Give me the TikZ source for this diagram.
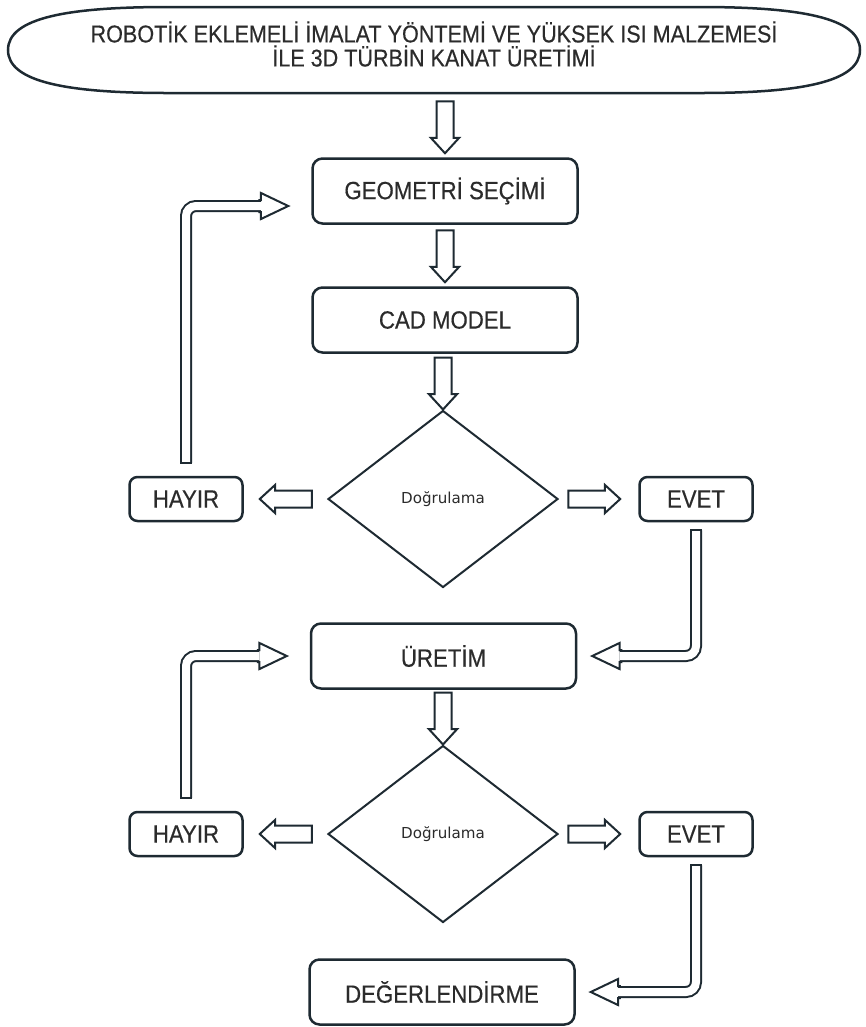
\documentclass[tikz,border=0pt]{standalone}
\usepackage{fontspec}
\setmainfont{Liberation Sans}[FakeStretch=0.89, FakeBold=0.4]
\newfontfamily\diafont{DejaVu Sans}
\usetikzlibrary{arrows.meta, positioning, shapes.geometric, shapes.arrows, calc}
\definecolor{ink}{HTML}{1E2A32}
\definecolor{txt}{HTML}{2B2B2B}

\begin{document}
\begin{tikzpicture}[
    every node/.style={text=txt},
    box/.style={draw=ink, line width=0.05cm, rounded corners=0.2cm, minimum width=5.3cm, minimum height=1.3cm, font=\fontsize{14.2}{16}\selectfont},
    smallbox/.style={box, rounded corners=0.16cm, minimum width=2.26cm, minimum height=0.88cm},
    decision/.style={diamond, draw=ink, line width=0.04cm, minimum width=4.6cm, minimum height=3.54cm, inner sep=0pt, font=\diafont\fontsize{8.6}{10}\selectfont},
    blockarrow/.style={single arrow, draw=ink, fill=white, line width=0.04cm, inner xsep=0pt, inner ysep=0.15cm, outer sep=0pt, single arrow head extend=0.11cm, single arrow tip angle=85, minimum height=1.04cm, anchor=tip},
    arrowhead/.style={blockarrow, inner ysep=0.1cm, single arrow head extend=0.14cm, single arrow tip angle=51, minimum height=0.58cm},
    shaft/.style={draw=ink, line width=0.04cm, double=white, double distance=0.16cm, rounded corners=0.2cm}
]
\useasboundingbox[fill=white] (0,0) rectangle (17.32,-20.54);

% Title
\node[align=center, font=\fontsize{13.8}{13.7}\selectfont] (title) at (8.68,-0.88) {ROBOTİK EKLEMELİ İMALAT YÖNTEMİ VE YÜKSEK ISI MALZEMESİ\\İLE 3D TÜRBİN KANAT ÜRETİMİ};
\draw[ink, line width=0.05cm] (0.16,-1.0) .. controls (0.16,-0.355) and (1.36,-0.14) .. (3.36,-0.14) -- (14.0,-0.14)
    .. controls (16.0,-0.14) and (17.2,-0.355) .. (17.2,-1.0) .. controls (17.2,-1.645) and (16.0,-1.86) .. (14.0,-1.86)
    -- (3.36,-1.86) .. controls (1.36,-1.86) and (0.16,-1.645) .. cycle;

% Main steps
\node[box] (geo) at (8.9,-3.82) {GEOMETRİ SEÇİMİ};
\node[box] (cad) at (8.9,-6.4) {CAD MODEL};
\node[box] (uretim) at (8.87,-13.12) {ÜRETİM};
\node[box] (deger) at (8.84,-19.84) {DEĞERLENDİRME};

\node[blockarrow, rotate=-90] (a1) at ([yshift=0.08cm]geo.north) {};
\node[blockarrow, rotate=-90] (a2) at ([yshift=0.08cm]cad.north) {};

% Checks
\foreach \i/\y/\back/\dy/\next in {1/-9.98/geo/-0.3cm/uretim, 2/-16.68/uretim/0cm/deger} {
    \node[decision] (dia\i) at (8.86,\y) {Doğrulama};
    \node[smallbox] (hayir\i) at (3.72,\y) {HAYIR};
    \node[smallbox] (evet\i) at (13.92,\y) {EVET};
    \node[blockarrow, rotate=-90] (in\i) at (dia\i.north) {};
    \node[blockarrow, rotate=180] (no\i) at ([xshift=0.32cm]hayir\i.east) {};
    \node[blockarrow] (yes\i) at ([xshift=-0.36cm]evet\i.west) {};
    % loop back
    \coordinate (s\i) at ([yshift=0.26cm]hayir\i.north);
    \node[arrowhead] (b\i) at ([xshift=-0.46cm, yshift=\dy]\back.west) {};
    \draw[shaft] (s\i) |- ($(b\i.before head)!0.5!(b\i.after head)$);
    \draw[ink, line width=0.04cm] ([xshift=-0.12cm]s\i) -- ([xshift=0.12cm]s\i);
    % go on
    \coordinate (t\i) at ([yshift=-0.16cm]evet\i.south);
    \node[arrowhead, rotate=180] (f\i) at ([xshift=0.3cm]\next.east) {};
    \draw[shaft] (t\i) |- ($(f\i.before head)!0.5!(f\i.after head)$);
    \draw[ink, line width=0.04cm] ([xshift=-0.12cm]t\i) -- ([xshift=0.12cm]t\i);
}
\end{tikzpicture}
\end{document}
